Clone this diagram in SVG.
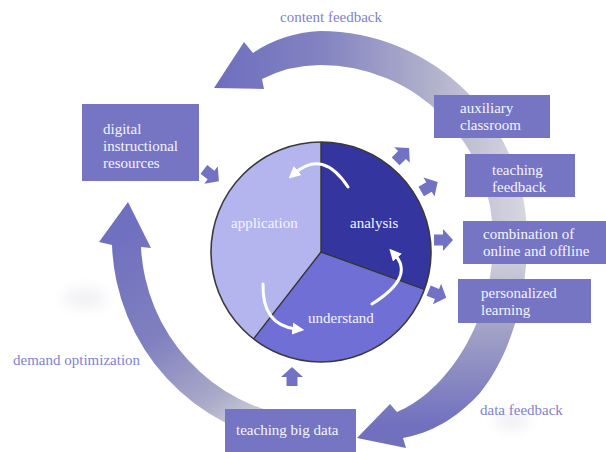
<svg xmlns="http://www.w3.org/2000/svg" width="606" height="452" viewBox="0 0 606 452">
  <style>
    .box { fill: #7575c3; }
    .boxtext { font-family: "Liberation Serif", "Times New Roman", serif; font-size: 15px; fill: #f4f4ff; }
    .label { font-family: "Liberation Serif", "Times New Roman", serif; font-size: 15px; fill: #8282cc; }
    .pietext { font-family: "Liberation Serif", "Times New Roman", serif; font-size: 15px; fill: #f4f4ff; }
    .block { fill: #7272c4; }
    .swirl { fill: none; stroke: #ffffff; stroke-width: 3; stroke-linecap: round; }
    .rim { fill: none; stroke: #3a3a3a; stroke-width: 1.6; }
  </style>
  <defs>
    <linearGradient id="gTop" gradientUnits="userSpaceOnUse" x1="214" y1="0" x2="525" y2="0">
      <stop offset="0" stop-color="#6e6ebf"/>
      <stop offset="0.35" stop-color="#8383c1"/>
      <stop offset="0.7" stop-color="#b1b1cc"/>
      <stop offset="1" stop-color="#d6d6e0"/>
    </linearGradient>
    <linearGradient id="gData" gradientUnits="userSpaceOnUse" x1="0" y1="250" x2="0" y2="425">
      <stop offset="0" stop-color="#d4d4de"/>
      <stop offset="0.45" stop-color="#a2a2c6"/>
      <stop offset="1" stop-color="#7070bf"/>
    </linearGradient>
    <linearGradient id="gLeft" gradientUnits="userSpaceOnUse" x1="130" y1="230" x2="260" y2="420">
      <stop offset="0" stop-color="#7070c0"/>
      <stop offset="0.45" stop-color="#8080bf"/>
      <stop offset="0.8" stop-color="#a9a9c9"/>
      <stop offset="1" stop-color="#cfcfda"/>
    </linearGradient>
    <marker id="swirlHead" viewBox="0 0 10 10" refX="3" refY="5" markerWidth="4" markerHeight="4" orient="auto" markerUnits="strokeWidth">
      <path d="M0,0 L10,5 L0,10 Z" fill="#ffffff"/>
    </marker>
    <path id="blockArrow" d="M-9,-5.5 L0,-5.5 L0,-11 L10,0 L0,11 L0,5.5 L-9,5.5 Z"/>
    <filter id="soft" x="-50%" y="-50%" width="200%" height="200%">
      <feGaussianBlur stdDeviation="7"/>
    </filter>
  </defs>

  <rect width="606" height="452" fill="#ffffff"/>

  <!-- faint smudges in the background -->
  <ellipse cx="85" cy="298" rx="22" ry="10" fill="#f1f1f5" filter="url(#soft)"/>
  <ellipse cx="512" cy="420" rx="18" ry="10" fill="#f1f1f5" filter="url(#soft)"/>

  <!-- large circular feedback arrows -->
  <g id="connectors">
    <path id="arrow-content-feedback" fill="url(#gTop)"
      d="M262,79 L264,89 L214,88 L244,42 L253,53 Q282,33 320,31 A207 207 0 0 1 527,240 L493,240 A173 173 0 0 0 320,65 Q290,65 262,79 Z"/>
    <path id="arrow-data-feedback" fill="url(#gData)"
      d="M527,240 C527,300 510,355 480,393 C455,420 430,433 403,438 L406,448 L357,438 L390,404 L397,412 C440,395 493,330 493,240 Z"/>
    <path id="arrow-demand-optimization" fill="url(#gLeft)"
      d="M112,245 A208 208 0 0 0 295,444 L298,417 A180 180 0 0 1 141,247 L151,248 L128,202 L99,242 Z"/>
  </g>

  <!-- rectangular nodes -->
  <g id="node-digital-resources">
    <rect class="box" x="82" y="104" width="117" height="77"/>
    <text class="boxtext" x="103" y="134">digital</text>
    <text class="boxtext" x="103" y="151">instructional</text>
    <text class="boxtext" x="103" y="168">resources</text>
  </g>
  <g id="node-auxiliary-classroom">
    <rect class="box" x="434" y="95" width="116" height="43"/>
    <text class="boxtext" x="460" y="113">auxiliary</text>
    <text class="boxtext" x="460" y="130">classroom</text>
  </g>
  <g id="node-teaching-feedback">
    <rect class="box" x="465" y="154" width="110" height="43"/>
    <text class="boxtext" x="492" y="175">teaching</text>
    <text class="boxtext" x="492" y="192">feedback</text>
  </g>
  <g id="node-online-offline">
    <rect class="box" x="463" y="221" width="143" height="43"/>
    <text class="boxtext" x="483" y="239">combination of</text>
    <text class="boxtext" x="483" y="256">online and offline</text>
  </g>
  <g id="node-personalized-learning">
    <rect class="box" x="458" y="279" width="133" height="44"/>
    <text class="boxtext" x="481" y="298">personalized</text>
    <text class="boxtext" x="481" y="315">learning</text>
  </g>
  <g id="node-teaching-big-data">
    <rect class="box" x="225" y="409" width="131" height="43"/>
    <text class="boxtext" x="236" y="435">teaching big data</text>
  </g>

  <!-- cycle labels -->
  <g id="labels">
    <text class="label" x="280" y="22">content feedback</text>
    <text class="label" x="13" y="365">demand optimization</text>
    <text class="label" x="480" y="415">data feedback</text>
  </g>

  <!-- central pie -->
  <g id="node-pie">
    <path d="M321,252 L321,142 A110 110 0 0 0 253.6,338.9 Z" fill="#b4b4ef"/>
    <path d="M321,252 L321,142 A110 110 0 0 1 424.5,289.3 Z" fill="#3535a0"/>
    <path d="M321,252 L424.5,289.3 A110 110 0 0 1 253.6,338.9 Z" fill="#6f6fd6"/>
    <path d="M321,142 L321,252 L424.5,289.3 M321,252 L253.6,338.9" fill="none" stroke="#333333" stroke-width="1.4"/>
    <circle class="rim" cx="321" cy="252" r="110"/>
    <text class="pietext" x="231" y="228">application</text>
    <text class="pietext" x="350" y="228">analysis</text>
    <text class="pietext" x="308" y="323">understand</text>
  </g>

  <!-- small block arrows and inner cycle arrows -->
  <g id="connectors-inner">
    <use href="#blockArrow" class="block" transform="translate(211,175) rotate(38)"/>
    <use href="#blockArrow" class="block" transform="translate(402,155) rotate(-45)"/>
    <use href="#blockArrow" class="block" transform="translate(429,187) rotate(-30)"/>
    <use href="#blockArrow" class="block" transform="translate(443,240)"/>
    <use href="#blockArrow" class="block" transform="translate(437,294) rotate(22)"/>
    <use href="#blockArrow" class="block" transform="translate(292,377) rotate(-90)"/>
    <path class="swirl" d="M348,187 Q323,149 295,173" marker-end="url(#swirlHead)"/>
    <path class="swirl" d="M372,304 Q415,277 395,255" marker-end="url(#swirlHead)"/>
    <path class="swirl" d="M263,284 Q262,325 296,329" marker-end="url(#swirlHead)"/>
  </g>
</svg>
